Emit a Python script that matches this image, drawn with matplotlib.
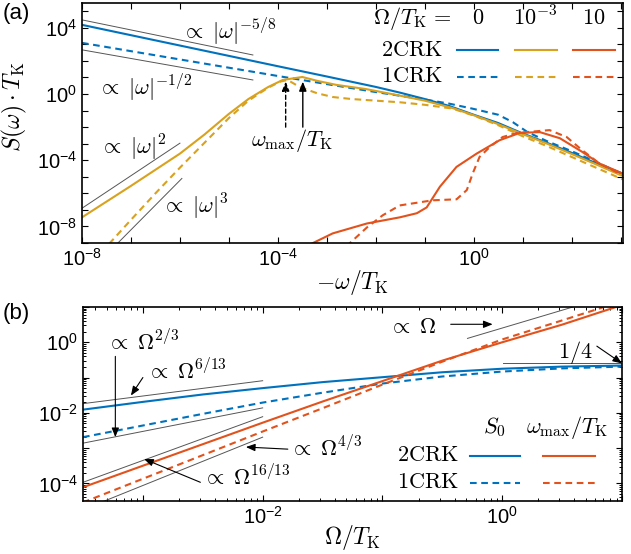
import numpy as np
import matplotlib
matplotlib.use("Agg")
import matplotlib.pyplot as plt
from matplotlib.ticker import FixedLocator, FuncFormatter, NullLocator, LogLocator

plt.rcParams['font.family'] = ['Liberation Sans', 'DejaVu Sans']
plt.rcParams['mathtext.fontset'] = 'cm'

BLUE = '#0072BD'
GOLD = '#D9A21E'
RED = '#E2521C'
GRAY = '#555555'

# ---- panel (a): log10(-w/TK), log10(S*TK) ----
a_2crk_0_x = [-8, -6, -4, -3, -2, -1.5, -1, -0.5, 0, 0.5, 1, 1.5, 2, 2.5, 3.04]
a_2crk_0_y = [4.18, 2.93, 1.68, 1.06, 0.43, 0.08, -0.3, -0.72, -1.25, -1.75, -2.38, -2.95, -3.55, -4.18, -4.8]
a_1crk_0_x = [-8, -6, -4, -3, -2, -1, -0.5, 0, 0.5, 0.8, 1.1, 1.5, 2, 2.5, 3.04]
a_1crk_0_y = [3.09, 2.09, 1.09, 0.6, 0.12, -0.33, -0.58, -0.9, -1.25, -1.7, -2.3, -2.85, -3.45, -4.1, -4.85]

a_2crk_m3_x = [-8, -7, -6, -5.5, -5, -4.6, -4.2, -3.9, -3.5, -3.2, -2.8, -2.2, -1.5, -1, -0.43, 0, 0.5, 1, 1.5, 2, 2.5, 3.04]
a_2crk_m3_y = [-7.45, -5.55, -3.6, -2.45, -1.2, -0.3, 0.42, 0.85, 1.03, 0.8, 0.55, 0.3, -0.1, -0.4, -0.85, -1.28, -1.82, -2.42, -3.0, -3.62, -4.25, -4.95]
a_1crk_m3_x = [-7.6, -7, -6.5, -6, -5.5, -5, -4.6, -4.2, -3.95, -3.8, -3.55, -3.2, -2.88, -2.5, -2, -1.5, -1, -0.43, 0, 0.5, 1, 1.5, 2, 2.5, 3.04]
a_1crk_m3_y = [-9.55, -7.6, -6.0, -4.45, -2.95, -1.45, -0.4, 0.38, 0.75, 0.85, 0.42, 0.05, -0.18, -0.3, -0.4, -0.5, -0.65, -0.88, -1.3, -1.88, -2.55, -3.15, -3.8, -4.45, -5.15]

a_2crk_10_x = [-3.35, -2.88, -2.18, -1.51, -1.16, -0.96, -0.69, -0.35, 0.06, 0.53, 0.94, 1.35, 1.76, 2.22, 2.57, 3.04]
a_2crk_10_y = [-9.1, -8.42, -7.82, -7.45, -7.2, -6.85, -5.6, -4.4, -3.6, -2.79, -2.35, -2.3, -2.67, -3.5, -4.2, -4.8]
a_1crk_10_x = [-2.6, -2.18, -1.86, -1.51, -0.84, -0.35, -0.14, -0.02, 0.12, 0.33, 0.59, 0.88, 1.08, 1.55, 1.9, 2.22, 2.57, 3.04]
a_1crk_10_y = [-9.2, -8.06, -7.33, -6.73, -6.42, -6.36, -5.8, -4.8, -3.8, -3.2, -2.6, -2.35, -2.3, -2.18, -2.6, -3.4, -4.2, -4.9]

# guide power laws (endpoints)
a_guides = {
    'm58': ([-8, -4.51], [4.48, 2.36]),
    'm12': ([-8, -4.51], [2.67, 0.85]),
    'p2': ([-8, -6.0], [-6.9, -2.97]),
    'p3': ([-7.3, -5.96], [-9.1, -5.1]),
}

# ---- panel (b): log10(Omega/TK) ----
b_x = [-3.5, -3, -2.5, -2, -1.5, -1, -0.5, 0, 0.5, 1.0]
b_s0_2crk = [-1.91, -1.69, -1.48, -1.30, -1.13, -0.99, -0.85, -0.75, -0.69, -0.66]
b_s0_1crk = [-2.69, -2.36, -2.03, -1.71, -1.43, -1.17, -0.97, -0.83, -0.74, -0.69]
b_wm_2crk_x = [-3.5, -3, -2.5, -2, -1.5, -1, -0.5, 0, 0.5, 0.95]
b_wm_2crk = [-4.11, -3.5, -2.89, -2.28, -1.68, -1.1, -0.52, 0.0, 0.5, 1.0]
b_wm_1crk_x = [-3.5, -3, -2.5, -2, -1.5, -1, -0.5, 0, 0.5, 0.85]
b_wm_1crk = [-4.54, -3.87, -3.2, -2.53, -1.87, -1.2, -0.55, 0.08, 0.62, 1.0]

b_guides = {
    'p613': ([-3.5, -2], [-1.74, -1.09]),
    'p23': ([-3.5, -2], [-2.86, -1.86]),
    'p1613': ([-3.5, -2], [-3.97, -2.11]),
    'p43': ([-3.35, -2], [-4.54, -2.69]),
    'p1': ([-0.29, 0.59], [0.11, 1.0]),
    'quarter': ([0.01, 1.0], [-0.6, -0.6]),
}

W, H = 631, 554
fig = plt.figure(figsize=(W / 100, H / 100), dpi=100)


def rect(l, t, r, b):
    return [l / W, 1 - b / H, (r - l) / W, (b - t) / H]


def p(v):
    return 10.0 ** np.asarray(v, dtype=float)


def lab(shown):
    def f(v, pos):
        e = int(round(np.log10(v)))
        return r'$\mathdefault{10^{%d}}$' % e if e in shown else ''
    return f


lw = 1.5
dash = (3.2, 2.2)
tsz = 16
lsz = 17
ksz = 14.5

# ================= panel (a) =================
ax = fig.add_axes(rect(82, 3, 623, 243))
ax.set_xscale('log')
ax.set_yscale('log')
ax.set_xlim(1e-8, 10 ** 3.05)
ax.set_ylim(1e-9, 10 ** 5.5)

ax.plot(p(a_2crk_0_x), p(a_2crk_0_y), color=BLUE, lw=lw)
ax.plot(p(a_1crk_0_x), p(a_1crk_0_y), color=BLUE, lw=lw, dashes=dash)
ax.plot(p(a_2crk_m3_x), p(a_2crk_m3_y), color=GOLD, lw=lw)
ax.plot(p(a_1crk_m3_x), p(a_1crk_m3_y), color=GOLD, lw=lw, dashes=dash)
ax.plot(p(a_2crk_10_x), p(a_2crk_10_y), color=RED, lw=lw)
ax.plot(p(a_1crk_10_x), p(a_1crk_10_y), color=RED, lw=lw, dashes=dash)
for gx, gy in a_guides.values():
    ax.plot(p(gx), p(gy), color=GRAY, lw=0.7)

ax.xaxis.set_major_locator(FixedLocator(p(range(-8, 4))))
ax.yaxis.set_major_locator(FixedLocator(p(range(-9, 6))))
ax.xaxis.set_minor_locator(NullLocator())
ax.yaxis.set_minor_locator(NullLocator())
ax.xaxis.set_major_formatter(FuncFormatter(lab([-8, -4, 0])))
ax.yaxis.set_major_formatter(FuncFormatter(lab([-8, -4, 0, 4])))
ax.tick_params(which='both', direction='in', top=True, right=True, labelsize=ksz,
               length=4, width=0.8)
for s in ax.spines.values():
    s.set_linewidth(1.2)

ax.text(0.185, 0.879, r'$\propto\;|\omega|^{-5/8}$', transform=ax.transAxes, fontsize=tsz, va='center')
ax.text(0.030, 0.646, r'$\propto\;|\omega|^{-1/2}$', transform=ax.transAxes, fontsize=tsz, va='center')
ax.text(0.033, 0.396, r'$\propto\;|\omega|^{2}$', transform=ax.transAxes, fontsize=tsz, va='center')
ax.text(0.148, 0.150, r'$\propto\;|\omega|^{3}$', transform=ax.transAxes, fontsize=tsz, va='center')
ax.text(0.312, 0.425, r'$\omega_\mathrm{max}/T_\mathrm{K}$', transform=ax.transAxes, fontsize=tsz, va='center')

arr = dict(arrowstyle='-|>,head_length=0.55,head_width=0.22', color='k', lw=1.0, shrinkA=0, shrinkB=0)
ax.annotate('', xy=(10 ** -3.49, 10 ** 0.75), xytext=(10 ** -3.49, 10 ** -2.0), arrowprops=arr)
arr_d = dict(arr, linestyle=(0, (3, 2)))
ax.annotate('', xy=(10 ** -3.84, 10 ** 0.75), xytext=(10 ** -3.84, 10 ** -2.0), arrowprops=arr_d)

# legend (a)
ax.text(0.538, 0.9375, r'$\Omega/T_\mathrm{K}\,=$', transform=ax.transAxes, fontsize=tsz, va='center')
for xc, s in zip([0.732, 0.837, 0.945], [r'$0$', r'$10^{-3}$', r'$10$']):
    ax.text(xc, 0.9375, s, transform=ax.transAxes, fontsize=tsz, ha='center', va='center')
ax.text(0.667, 0.804, r'$\mathrm{2CRK}$', transform=ax.transAxes, fontsize=tsz, ha='right', va='center')
ax.text(0.667, 0.692, r'$\mathrm{1CRK}$', transform=ax.transAxes, fontsize=tsz, ha='right', va='center')
for (x0, x1), c in zip([(0.693, 0.769), (0.800, 0.878), (0.908, 0.985)], [BLUE, GOLD, RED]):
    ax.plot([x0, x1], [0.804, 0.804], color=c, lw=lw, transform=ax.transAxes)
    ax.plot([x0, x1], [0.692, 0.692], color=c, lw=lw, dashes=dash, transform=ax.transAxes)

ax.text(-0.124, 0.567, r'$S(\omega)\cdot T_\mathrm{K}$', transform=ax.transAxes, fontsize=lsz,
        rotation=90, ha='center', va='center')
ax.text(0.5, -0.163, r'$-\omega/T_\mathrm{K}$', transform=ax.transAxes, fontsize=lsz,
        ha='center', va='center')
fig.text(3 / W, 1 - 14 / H, '(a)', fontsize=16, va='center')

# ================= panel (b) =================
bx = fig.add_axes(rect(83, 307, 622, 501))
bx.set_xscale('log')
bx.set_yscale('log')
bx.set_xlim(10 ** -3.5, 10)
bx.set_ylim(10 ** -4.5, 10)

bx.plot(p(b_x), p(b_s0_2crk), color=BLUE, lw=lw)
bx.plot(p(b_x), p(b_s0_1crk), color=BLUE, lw=lw, dashes=dash)
bx.plot(p(b_wm_2crk_x), p(b_wm_2crk), color=RED, lw=lw)
bx.plot(p(b_wm_1crk_x), p(b_wm_1crk), color=RED, lw=lw, dashes=dash)
for gx, gy in b_guides.values():
    bx.plot(p(gx), p(gy), color=GRAY, lw=0.7)

bx.xaxis.set_major_locator(FixedLocator(p(range(-3, 2))))
bx.yaxis.set_major_locator(FixedLocator(p(range(-4, 2))))
bx.xaxis.set_minor_locator(LogLocator(base=10, subs=np.arange(2, 10), numticks=20))
bx.yaxis.set_minor_locator(LogLocator(base=10, subs=np.arange(2, 10), numticks=20))
bx.xaxis.set_major_formatter(FuncFormatter(lab([-2, 0])))
bx.yaxis.set_major_formatter(FuncFormatter(lab([-4, -2, 0])))
bx.xaxis.set_minor_formatter(FuncFormatter(lambda v, pos: ''))
bx.yaxis.set_minor_formatter(FuncFormatter(lambda v, pos: ''))
bx.tick_params(which='major', direction='in', top=True, right=True, labelsize=ksz, length=4, width=0.8)
bx.tick_params(which='minor', direction='in', top=True, right=True, length=2.5, width=0.7)
for s in bx.spines.values():
    s.set_linewidth(1.2)

bx.text(0.045, 0.814, r'$\propto\;\Omega^{2/3}$', transform=bx.transAxes, fontsize=tsz, va='center')
bx.text(0.119, 0.665, r'$\propto\;\Omega^{6/13}$', transform=bx.transAxes, fontsize=tsz, va='center')
bx.text(0.223, 0.119, r'$\propto\;\Omega^{16/13}$', transform=bx.transAxes, fontsize=tsz, va='center')
bx.text(0.384, 0.268, r'$\propto\;\Omega^{4/3}$', transform=bx.transAxes, fontsize=tsz, va='center')
bx.text(0.568, 0.892, r'$\propto\;\Omega$', transform=bx.transAxes, fontsize=tsz, va='center')
bx.text(0.881, 0.768, r'$1/4$', transform=bx.transAxes, fontsize=tsz, va='center')

barr = dict(arrowstyle='-|>,head_length=0.55,head_width=0.22', color='k', lw=0.8, shrinkA=0, shrinkB=0)
for (x0, y0), (x1, y1) in [((-3.23, -0.4), (-3.23, -2.69)),
                           ((-3.0, -1.0), (-3.1, -1.51)),
                           ((-2.52, -3.97), (-2.99, -3.31)),
                           ((-1.79, -3.03), (-2.14, -2.97)),
                           ((-0.43, 0.51), (-0.08, 0.51)),
                           ((0.79, -0.11), (1.0, -0.6))]:
    bx.annotate('', xy=(10 ** x1, 10 ** y1), xytext=(10 ** x0, 10 ** y0), arrowprops=barr,
                annotation_clip=False)

# legend (b)
bx.text(0.764, 0.381, r'$S_0$', transform=bx.transAxes, fontsize=tsz, ha='center', va='center')
bx.text(0.898, 0.381, r'$\omega_\mathrm{max}/T_\mathrm{K}$', transform=bx.transAxes, fontsize=tsz,
        ha='center', va='center')
bx.text(0.698, 0.232, r'$\mathrm{2CRK}$', transform=bx.transAxes, fontsize=tsz, ha='right', va='center')
bx.text(0.698, 0.093, r'$\mathrm{1CRK}$', transform=bx.transAxes, fontsize=tsz, ha='right', va='center')
for (x0, x1), c in zip([(0.718, 0.811), (0.853, 0.950)], [BLUE, RED]):
    bx.plot([x0, x1], [0.232, 0.232], color=c, lw=lw, transform=bx.transAxes)
    bx.plot([x0, x1], [0.093, 0.093], color=c, lw=lw, dashes=dash, transform=bx.transAxes)

bx.text(0.5, -0.186, r'$\Omega/T_\mathrm{K}$', transform=bx.transAxes, fontsize=lsz,
        ha='center', va='center')
fig.text(3 / W, 1 - 313 / H, '(b)', fontsize=16, va='center')

fig.savefig('out.png', dpi=100)
